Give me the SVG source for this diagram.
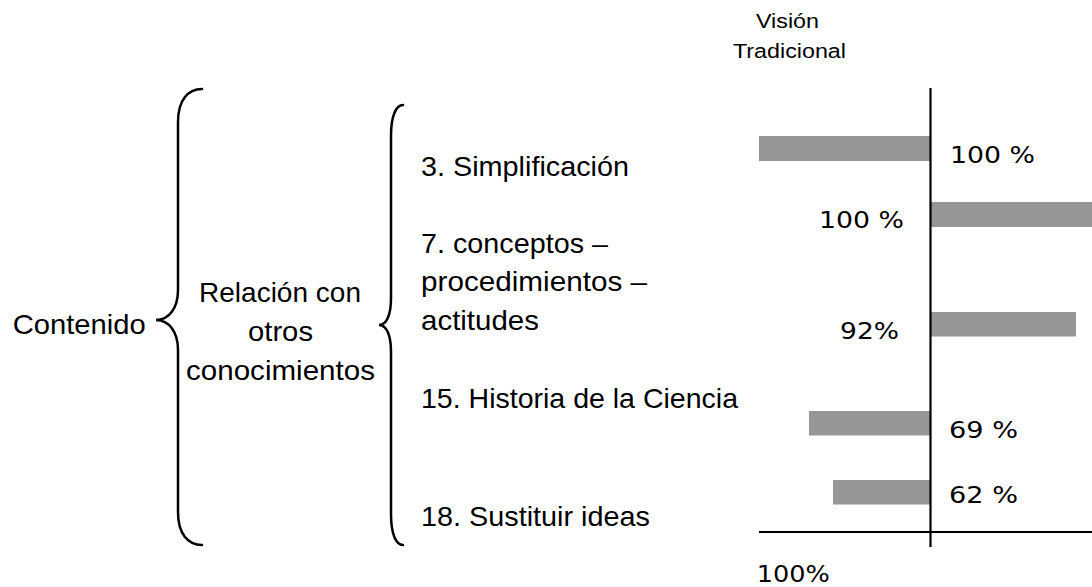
<svg xmlns="http://www.w3.org/2000/svg" width="1092" height="587" viewBox="0 0 1092 587">
<style>
.t{font-family:"Liberation Sans",Arial,sans-serif;font-size:28px;fill:#000}
.s{font-family:"Liberation Sans",Arial,sans-serif;font-size:20px;fill:#000}
.p{font-family:"DejaVu Sans",Verdana,sans-serif;font-size:23.5px;fill:#000}
.br{fill:none;stroke:#000;stroke-width:2.5;stroke-linecap:round}
.ax{stroke:#000;stroke-width:2.2;fill:none}
.bar{fill:#969696}
</style>
<rect width="1092" height="587" fill="#fff"/>
<g id="contenido">
<text class="t" x="12.7" y="334" textLength="133" lengthAdjust="spacingAndGlyphs">Contenido</text>
</g>
<g id="relacion">
<text class="t" x="199" y="302" textLength="162" lengthAdjust="spacingAndGlyphs">Relación con</text>
<text class="t" x="248" y="341" textLength="65" lengthAdjust="spacingAndGlyphs">otros</text>
<text class="t" x="186" y="380" textLength="189" lengthAdjust="spacingAndGlyphs">conocimientos</text>
</g>
<g id="items">
<text class="t" x="421" y="176" textLength="208" lengthAdjust="spacingAndGlyphs">3. Simplificación</text>
<text class="t" x="421" y="253" textLength="187" lengthAdjust="spacingAndGlyphs">7. conceptos –</text>
<text class="t" x="421" y="291" textLength="226" lengthAdjust="spacingAndGlyphs">procedimientos –</text>
<text class="t" x="421" y="330" textLength="118" lengthAdjust="spacingAndGlyphs">actitudes</text>
<text class="t" x="421" y="408" textLength="317" lengthAdjust="spacingAndGlyphs">15. Historia de la Ciencia</text>
<text class="t" x="421" y="526" textLength="229" lengthAdjust="spacingAndGlyphs">18. Sustituir ideas</text>
</g>
<g id="header">
<text class="s" x="756" y="27.7" textLength="63" lengthAdjust="spacingAndGlyphs">Visión</text>
<text class="s" x="733" y="58.3" textLength="113" lengthAdjust="spacingAndGlyphs">Tradicional</text>
</g>
<g id="connectors">
<path class="br" d="M202,89 C188,89 178,100 178,122 L178,290 C178,308 169,320 156,320 C169,320 178,332 178,350 L178,512 C178,534 188,545 202,545"/>
<path class="br" d="M403,105 C396,105 391,116 391,136 L391,298 C391,314 387,325 379,325 C387,325 391,336 391,352 L391,514 C391,534 396,545 403,545"/>
</g>
<g id="chart">
<rect class="bar" x="759" y="136" width="171" height="25"/>
<rect class="bar" x="930" y="202" width="162" height="25"/>
<rect class="bar" x="930" y="312" width="146" height="24.5"/>
<rect class="bar" x="809" y="411" width="121" height="24.5"/>
<rect class="bar" x="833" y="480" width="97" height="24.5"/>
<line class="ax" x1="930.5" y1="88" x2="930.5" y2="547"/>
<line class="ax" x1="759" y1="532" x2="1092" y2="532"/>
<text class="p" x="950" y="163" textLength="85" lengthAdjust="spacingAndGlyphs">100 %</text>
<text class="p" x="819" y="227.7" textLength="85" lengthAdjust="spacingAndGlyphs">100 %</text>
<text class="p" x="840" y="339.3" textLength="59" lengthAdjust="spacingAndGlyphs">92%</text>
<text class="p" x="949" y="437.7" textLength="69" lengthAdjust="spacingAndGlyphs">69 %</text>
<text class="p" x="949" y="503.3" textLength="69" lengthAdjust="spacingAndGlyphs">62 %</text>
<text class="p" x="756.7" y="581.7" textLength="73" lengthAdjust="spacingAndGlyphs">100%</text>
</g>
</svg>
